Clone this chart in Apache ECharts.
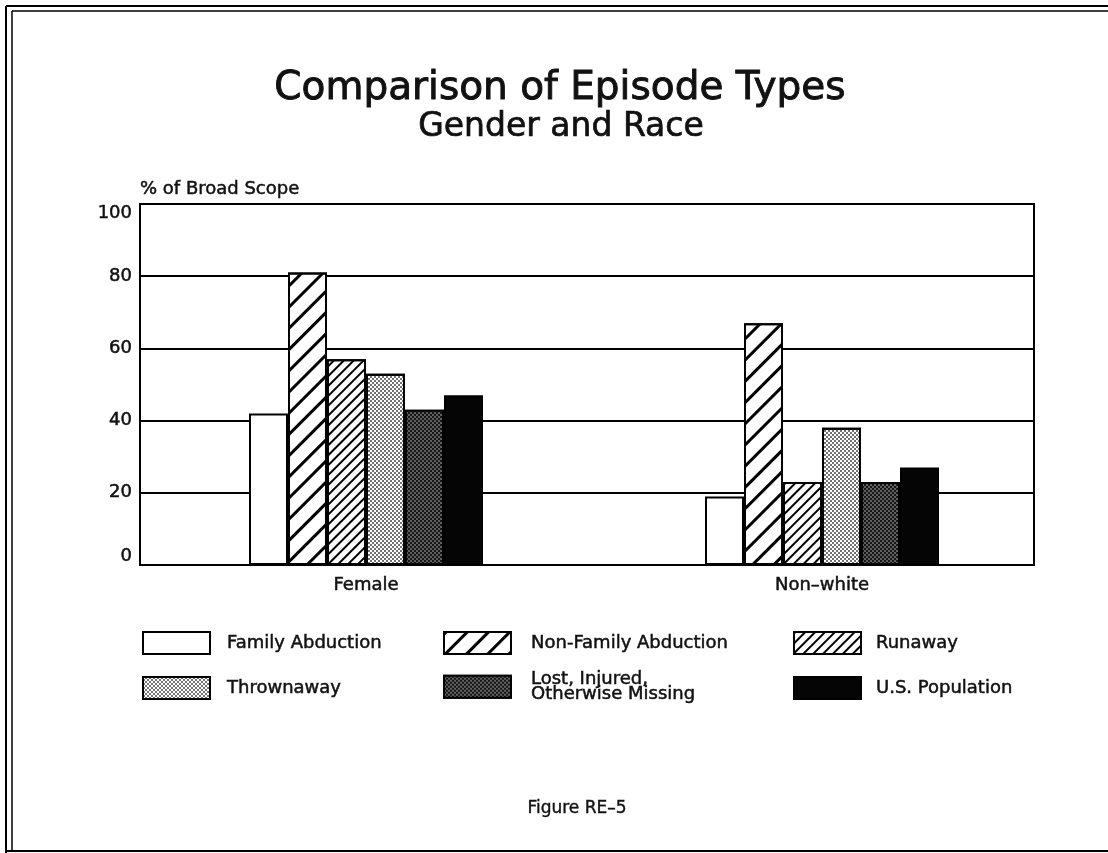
<!DOCTYPE html>
<html>
<head>
<meta charset="utf-8">
<title>Comparison of Episode Types</title>
<script src="https://cdn.jsdelivr.net/npm/echarts@6/dist/echarts.min.js"></script>
<style>
  html, body { margin: 0; padding: 0; background: #fff; }
  #chart { width: 1108px; height: 853px; }
</style>
</head>
<body>
<div id="chart"></div>
<script>
// Categories and values (% of broad scope)
const categories = ['Female', 'Non\u2013white'];
const familyAbduction = [42, 19];
const nonFamilyAbduction = [81, 67];
const runaway = [57, 23];
const thrownaway = [53, 38];
const lostInjured = [43, 23];
const usPopulation = [47, 27];
const yTicks = { min: 0, max: 100, interval: 20 };

const FONT = 'DejaVu Sans';
const INK = '#111';
// a thin outline of the same ink gives the type a slightly heavier weight
const heavy = w => ({ textBorderColor: INK, textBorderWidth: w });

const chart = echarts.init(document.getElementById('chart'), null, { renderer: 'canvas' });

// Fill patterns for each episode type
const hatchWide = { symbol: 'rect', symbolSize: 1, color: '#000', dashArrayX: [1, 0], dashArrayY: [2.2, 11.8], rotation: -Math.PI / 4 };
const hatchFine = { symbol: 'rect', symbolSize: 1, color: '#000', dashArrayX: [1, 0], dashArrayY: [1.8, 4.6], rotation: -Math.PI / 4 };
const stippleLight = { symbol: 'rect', symbolSize: 1, color: 'rgba(0,0,0,0.55)', dashArrayX: [[2, 2], [0, 2, 2, 0]], dashArrayY: [2, 0], rotation: 0 };
const stippleDark = { symbol: 'rect', symbolSize: 1, color: 'rgba(255,255,255,0.32)', dashArrayX: [[2, 2], [0, 2, 2, 0]], dashArrayY: [2, 0], rotation: 0 };

const seriesDefs = [
  { name: 'Family Abduction', data: familyAbduction, color: '#fff', decal: null },
  { name: 'Non-Family Abduction', data: nonFamilyAbduction, color: '#fff', decal: hatchWide },
  { name: 'Runaway', data: runaway, color: '#fff', decal: hatchFine },
  { name: 'Thrownaway', data: thrownaway, color: '#fff', decal: stippleLight },
  { name: 'Lost, Injured, Otherwise Missing', data: lostInjured, color: '#161616', decal: stippleDark },
  { name: 'U.S. Population', data: usPopulation, color: '#050505', decal: null }
];

const series = seriesDefs.map(s => ({
  name: s.name,
  type: 'bar',
  xAxisIndex: 1,
  yAxisIndex: 1,
  data: s.data,
  barWidth: 39,
  barGap: '0%',
  itemStyle: Object.assign(
    { color: s.color, borderColor: '#000', borderWidth: 2 },
    s.decal ? { decal: s.decal } : {}
  ),
  emphasis: { disabled: true },
  silent: true
}));

// Legend layout: three columns, two rows
const legendSlots = [
  { name: 'Family Abduction', left: 142, top: 631, pad: [0, 0, 0, 12] },
  { name: 'Non-Family Abduction', left: 443, top: 631, pad: [0, 0, 0, 15] },
  { name: 'Runaway', left: 793, top: 631, pad: [0, 0, 0, 10] },
  { name: 'Thrownaway', left: 142, top: 676, pad: [2, 0, 0, 12] },
  { name: 'Lost, Injured, Otherwise Missing', left: 443, top: 670, pad: [0, 0, 0, 15] },
  { name: 'U.S. Population', left: 793, top: 676, pad: [2, 0, 0, 10] }
];

const legends = legendSlots.map(l => ({
  data: [l.name],
  left: l.left,
  top: l.top,
  padding: 0,
  orient: 'horizontal',
  icon: 'rect',
  itemWidth: 67,
  itemHeight: 22,
  selectedMode: false,
  formatter: name => name === 'Lost, Injured, Otherwise Missing' ? 'Lost, Injured,\nOtherwise Missing' : name,
  textStyle: Object.assign({
    fontFamily: FONT,
    fontSize: 18,
    color: INK,
    lineHeight: 15,
    padding: l.pad
  }, heavy(0.5))
}));

const option = {
  backgroundColor: '#fff',
  animation: false,
  title: [
    {
      text: 'Comparison of Episode Types',
      left: 560, top: 69, textAlign: 'center', padding: 0,
      textStyle: Object.assign({ fontFamily: FONT, fontSize: 39, fontWeight: 'normal', color: INK }, heavy(0.9))
    },
    {
      text: 'Gender and Race',
      left: 561, top: 111, textAlign: 'center', padding: 0,
      textStyle: Object.assign({ fontFamily: FONT, fontSize: 33, fontWeight: 'normal', color: INK }, heavy(0.7))
    },
    {
      text: 'Figure RE\u20135',
      left: 577, top: 800, textAlign: 'center', padding: 0,
      textStyle: Object.assign({ fontFamily: FONT, fontSize: 17, fontWeight: 'normal', color: INK }, heavy(0.4))
    }
  ],
  legend: legends,
  grid: [
    // plot frame with gridlines
    { left: 140, right: 74, top: 204, bottom: 288, show: true, borderColor: '#000', borderWidth: 2,
      backgroundColor: 'transparent', containLabel: false, outerBoundsMode: 'none' },
    // bar placement
    { left: 138, right: 58, top: 204, bottom: 288, show: false, containLabel: false, outerBoundsMode: 'none' }
  ],
  xAxis: [
    { gridIndex: 0, type: 'value', min: 0, max: 1, show: false },
    {
      gridIndex: 1, type: 'category', data: categories,
      axisLine: { show: false }, axisTick: { show: false }, splitLine: { show: false },
      axisLabel: Object.assign({ margin: 11, fontFamily: FONT, fontSize: 18, color: INK }, heavy(0.5))
    }
  ],
  yAxis: [
    {
      gridIndex: 0, type: 'value', min: yTicks.min, max: yTicks.max, interval: yTicks.interval,
      name: '% of Broad Scope', nameLocation: 'end', nameGap: 6,
      nameTextStyle: Object.assign({ fontFamily: FONT, fontSize: 18, color: INK, align: 'left', verticalAlign: 'bottom' }, heavy(0.5)),
      axisLine: { show: false }, axisTick: { show: false },
      splitLine: { show: true, lineStyle: { color: '#000', width: 2 } },
      axisLabel: Object.assign({
        margin: 8, fontFamily: FONT, fontSize: 18, color: INK,
        verticalAlignMaxLabel: 'top', verticalAlignMinLabel: 'bottom'
      }, heavy(0.5))
    },
    { gridIndex: 1, type: 'value', min: yTicks.min, max: yTicks.max, show: false }
  ],
  series: series,
  graphic: [
    // page frame: double rule on top and left, single rule at the bottom
    { type: 'line', silent: true, shape: { x1: 6, y1: 6, x2: 1108, y2: 6 }, style: { stroke: '#000', lineWidth: 2 } },
    { type: 'line', silent: true, shape: { x1: 12, y1: 11, x2: 1108, y2: 11 }, style: { stroke: '#000', lineWidth: 1.5 } },
    { type: 'line', silent: true, shape: { x1: 6, y1: 6, x2: 6, y2: 853 }, style: { stroke: '#000', lineWidth: 2 } },
    { type: 'line', silent: true, shape: { x1: 12, y1: 11, x2: 12, y2: 851 }, style: { stroke: '#000', lineWidth: 1.5 } },
    { type: 'line', silent: true, shape: { x1: 6, y1: 851, x2: 1108, y2: 851 }, style: { stroke: '#000', lineWidth: 2 } }
  ]
};

chart.setOption(option);
</script>
</body>
</html>
